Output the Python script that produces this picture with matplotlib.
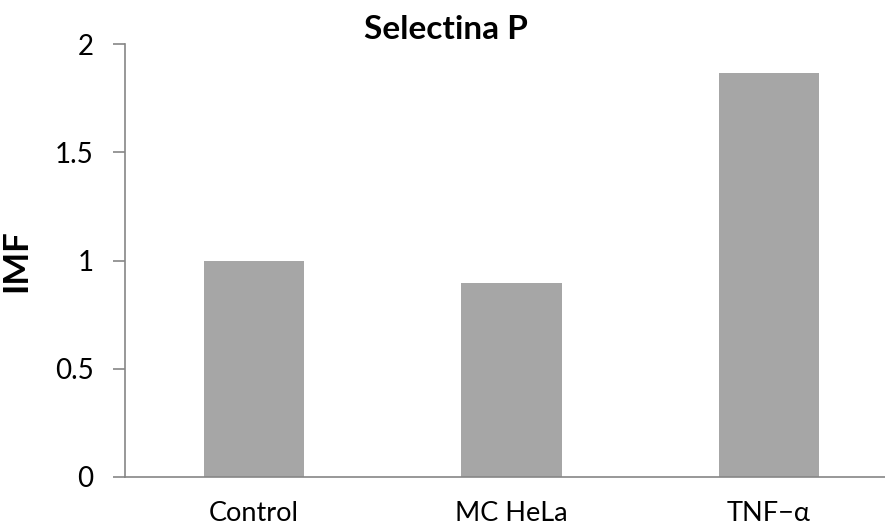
import matplotlib.pyplot as plt
import numpy as np

plt.rcParams['font.family'] = ['Lato', 'DejaVu Sans']

categories = ["Control", "MC HeLa", "TNF\u2212\u03b1"]
imf = [1.0, 0.895, 1.865]
yticks = [0, 0.5, 1, 1.5, 2]
ytick_labels = ["0", "0.5", "1", "1.5", "2"]

fig = plt.figure(figsize=(8.85, 5.31), dpi=100)
ax = fig.add_axes([0.1412, 0.1017, 1 - 0.1412, 0.8154])

x = np.arange(len(categories))
ax.bar(x, imf, width=0.39, color="#A6A6A6", zorder=2)

ax.set_xlim(-0.5, 2.45)
ax.set_ylim(0, 2)
ax.set_yticks(yticks)
ax.set_yticklabels(ytick_labels)
ax.set_xticks(x)
ax.set_xticklabels(categories)

for side in ["top", "right"]:
    ax.spines[side].set_visible(False)
for side in ["left", "bottom"]:
    ax.spines[side].set_color("#868686")
    ax.spines[side].set_linewidth(1.2)

ax.tick_params(axis="y", length=8.6, width=1.2, color="#868686", pad=14, labelsize=20)
ax.tick_params(axis="x", length=0, pad=17, labelsize=19.5)

ax.set_ylabel("IMF", fontsize=25, fontweight="bold", labelpad=16)
ax.set_title("Selectina P", fontsize=24, fontweight="bold", pad=2, x=(446 - 125) / 760)

fig.savefig("out.png", dpi=100)
